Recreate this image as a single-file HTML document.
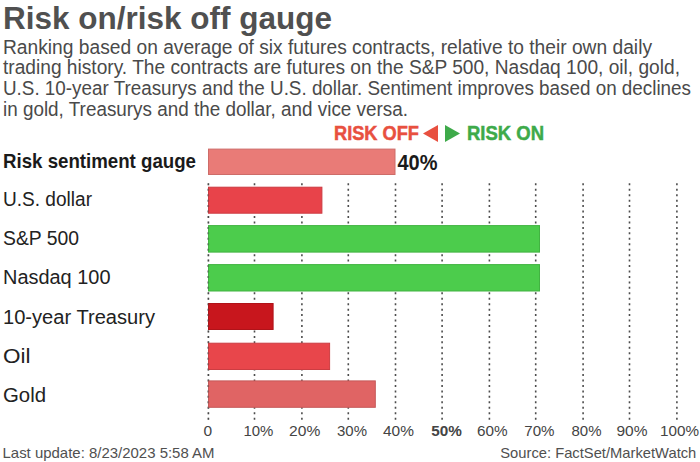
<!DOCTYPE html>
<html><head><meta charset="utf-8"><title>Risk on/risk off gauge</title>
<style>
html,body{margin:0;padding:0;background:#fff;}
body{width:700px;height:462px;overflow:hidden;}
svg{display:block;}
text{font-family:"Liberation Sans",Arial,sans-serif;}
.t{font-weight:bold;fill:#505050;font-size:31px;}
.s{fill:#4a4a4a;font-size:20px;}
.lb{fill:#222;font-size:20px;}
.ax{fill:#444;font-size:15.5px;}
.ft{fill:#505050;font-size:14.5px;}
</style></head>
<body>
<svg width="700" height="462" viewBox="0 0 700 462">
<rect width="700" height="462" fill="#fff"/>
<text class="t" x="3" y="29.4" textLength="329" lengthAdjust="spacingAndGlyphs">Risk on/risk off gauge</text>
<text class="s" x="3" y="53.7" textLength="649" lengthAdjust="spacingAndGlyphs">Ranking based on average of six futures contracts, relative to their own daily</text>
<text class="s" x="3" y="74.3" textLength="677" lengthAdjust="spacingAndGlyphs">trading history. The contracts are futures on the S&amp;P 500, Nasdaq 100, oil, gold,</text>
<text class="s" x="3" y="95.2" textLength="688" lengthAdjust="spacingAndGlyphs">U.S. 10-year Treasurys and the U.S. dollar. Sentiment improves based on declines</text>
<text class="s" x="3" y="115.8" textLength="405" lengthAdjust="spacingAndGlyphs">in gold, Treasurys and the dollar, and vice versa.</text>

<text x="334" y="140.3" font-size="20.5" font-weight="bold" fill="#e8503f" stroke="#e8503f" stroke-width="0.5" textLength="85" lengthAdjust="spacingAndGlyphs">RISK OFF</text>
<polygon points="423,133.5 438,125 438,142" fill="#e8503f"/>
<polygon points="445,125 460,133.5 445,142" fill="#3eaa4a"/>
<text x="467" y="140.3" font-size="20.5" font-weight="bold" fill="#3eaa4a" stroke="#3eaa4a" stroke-width="0.5" textLength="77" lengthAdjust="spacingAndGlyphs">RISK ON</text>

<!-- gridlines -->
<g stroke="#4d4d4d" stroke-width="1.6" stroke-dasharray="2 3.45">
<line x1="208.4" y1="183.3" x2="208.4" y2="420.5"/>
<line x1="254.5" y1="183.3" x2="254.5" y2="420.5"/>
<line x1="301.9" y1="183.3" x2="301.9" y2="420.5"/>
<line x1="348.3" y1="183.3" x2="348.3" y2="420.5"/>
<line x1="395.5" y1="183.3" x2="395.5" y2="420.5"/>
<line x1="442.1" y1="183.3" x2="442.1" y2="420.5"/>
<line x1="489.4" y1="183.3" x2="489.4" y2="420.5"/>
<line x1="535.7" y1="183.3" x2="535.7" y2="420.5"/>
<line x1="583.1" y1="183.3" x2="583.1" y2="420.5"/>
<line x1="629.5" y1="183.3" x2="629.5" y2="420.5"/>
<line x1="676.9" y1="183.3" x2="676.9" y2="420.5"/>
</g>

<!-- bars -->
<rect x="208.5" y="149.1" width="186.5" height="25.4" fill="#e97b77" stroke="#cd6c68" stroke-width="1"/>
<rect x="208.5" y="187.2" width="113.4" height="26.0" fill="#e8434a" stroke="#cc3a41" stroke-width="1"/>
<rect x="208.5" y="225.6" width="331.0" height="26.5" fill="#4ccc4c" stroke="#42b342" stroke-width="1"/>
<rect x="208.5" y="264.6" width="331.0" height="26.4" fill="#4ccc4c" stroke="#42b342" stroke-width="1"/>
<rect x="208.5" y="303.5" width="64.6" height="26.0" fill="#c8161d" stroke="#b01319" stroke-width="1"/>
<rect x="208.5" y="343.2" width="121.1" height="26.3" fill="#e8464b" stroke="#cc3d42" stroke-width="1"/>
<rect x="208.5" y="380.9" width="166.8" height="26.4" fill="#e06464" stroke="#c55858" stroke-width="1"/>
<line x1="208.4" y1="183.3" x2="208.4" y2="420.5" stroke="#444" stroke-width="1.4" stroke-dasharray="2 3.45" opacity="0.35"/>

<text x="397.5" y="169.9" font-size="21.5" font-weight="bold" fill="#1a1a1a" textLength="40" lengthAdjust="spacingAndGlyphs">40%</text>

<!-- labels -->
<text x="3" y="167.6" font-size="20.5" font-weight="bold" fill="#1a1a1a" textLength="193" lengthAdjust="spacingAndGlyphs">Risk sentiment gauge</text>
<text class="lb" x="3" y="205.8" textLength="89" lengthAdjust="spacingAndGlyphs">U.S. dollar</text>
<text class="lb" x="3" y="244.8" textLength="76" lengthAdjust="spacingAndGlyphs">S&amp;P 500</text>
<text class="lb" x="3" y="284" textLength="107.5" lengthAdjust="spacingAndGlyphs">Nasdaq 100</text>
<text class="lb" x="3" y="323.6" textLength="152" lengthAdjust="spacingAndGlyphs">10-year Treasury</text>
<text class="lb" x="3" y="362.6" textLength="27.5" lengthAdjust="spacingAndGlyphs">Oil</text>
<text class="lb" x="3" y="401.6" textLength="43" lengthAdjust="spacingAndGlyphs">Gold</text>

<!-- axis labels -->
<text class="ax" x="203.5" y="436.4">0</text>
<text class="ax" x="243.4" y="436.4" textLength="29.9" lengthAdjust="spacingAndGlyphs">10%</text>
<text class="ax" x="289.1" y="436.4" textLength="31.2" lengthAdjust="spacingAndGlyphs">20%</text>
<text class="ax" x="337" y="436.4" textLength="30" lengthAdjust="spacingAndGlyphs">30%</text>
<text class="ax" x="383" y="436.4" textLength="30.9" lengthAdjust="spacingAndGlyphs">40%</text>
<text class="ax" x="431.2" y="436.4" textLength="30.6" lengthAdjust="spacingAndGlyphs" font-weight="bold" fill="#111">50%</text>
<text class="ax" x="476.9" y="436.4" textLength="30.6" lengthAdjust="spacingAndGlyphs">60%</text>
<text class="ax" x="524.3" y="436.4" textLength="30.2" lengthAdjust="spacingAndGlyphs">70%</text>
<text class="ax" x="571.5" y="436.4" textLength="30" lengthAdjust="spacingAndGlyphs">80%</text>
<text class="ax" x="616.5" y="436.4" textLength="31" lengthAdjust="spacingAndGlyphs">90%</text>
<text class="ax" x="660" y="436.4" textLength="39" lengthAdjust="spacingAndGlyphs">100%</text>

<text class="ft" x="2.5" y="457.8" textLength="212" lengthAdjust="spacingAndGlyphs">Last update: 8/23/2023 5:58 AM</text>
<text class="ft" x="500.3" y="457.8" textLength="196" lengthAdjust="spacingAndGlyphs">Source: FactSet/MarketWatch</text>
</svg>
</body></html>
